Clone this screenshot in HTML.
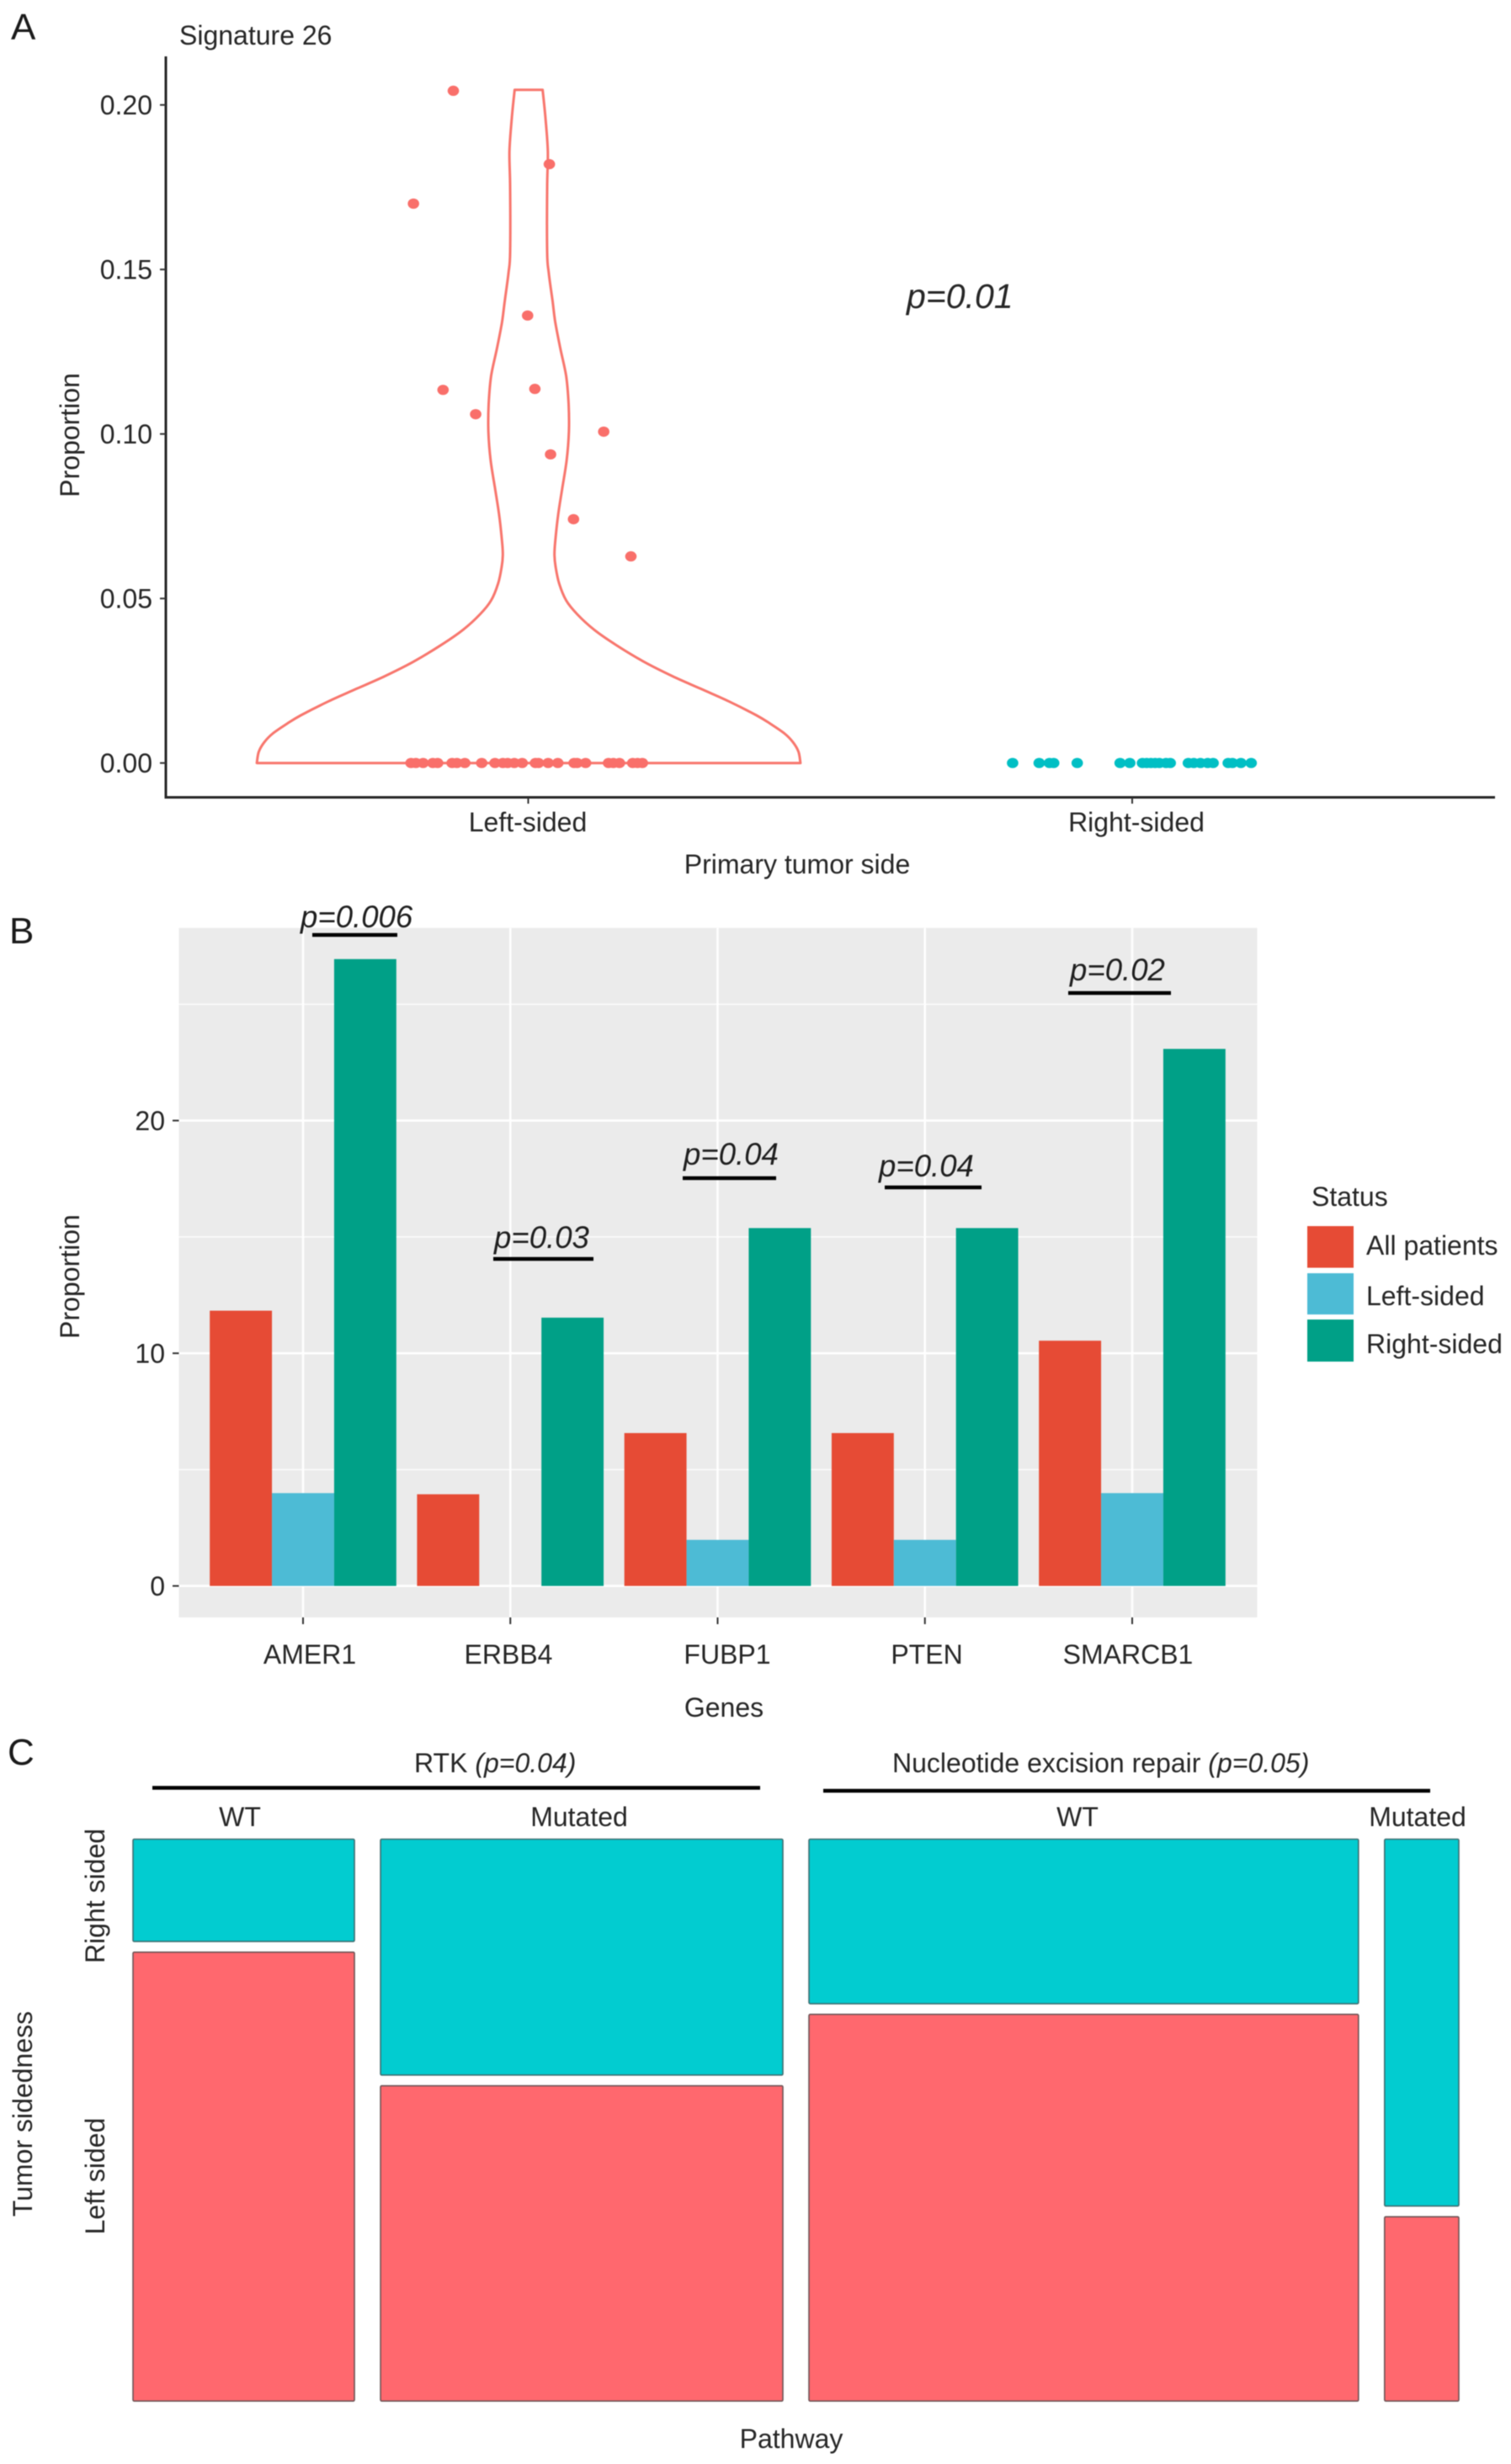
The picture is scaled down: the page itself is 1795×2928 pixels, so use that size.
<!DOCTYPE html>
<html lang="en">
<head>
<meta charset="utf-8">
<title>Signature 26, gene proportions and pathway mosaic</title>
<style>
html,body{margin:0;padding:0;background:#fff;}
body{width:1795px;height:2928px;overflow:hidden;}
svg{display:block;filter:blur(0.5px);}
text{font-family:"Liberation Sans",Arial,sans-serif;font-size:32px;fill:#262626;}
.tag{font-size:44px;fill:#1a1a1a;}
.pv{font-size:36.6px;font-style:italic;fill:#1f1f1f;}
.mid{text-anchor:middle;}
.end{text-anchor:end;}
</style>
</head>
<body>
<svg id="fig" xmlns="http://www.w3.org/2000/svg" width="1795" height="2928" viewBox="0 0 1795 2928">
  <rect x="0" y="0" width="1795" height="2928" fill="#ffffff"/>

  <!-- Panel A -->
  <g id="panelA">
    <text class="tag" x="13" y="47">A</text>
    <text x="213" y="53">Signature 26</text>
    <text class="mid" transform="translate(94,517) rotate(-90)">Proportion</text>
    <text class="mid" x="947" y="1038">Primary tumor side</text>
    <text x="1077" y="366" style="font-size:41px;font-style:italic">p=0.01</text>
    <text class="mid" x="627" y="988">Left-sided</text>
    <text class="mid" x="1350" y="988">Right-sided</text>
  </g>

  <!-- Panel B -->
  <g id="panelB">
    <text class="tag" x="11" y="1121">B</text>
    <rect x="212.5" y="1102.7" width="1281" height="819.3" fill="#ebebeb"/>
  </g>
  <g id="panelBText">
    <text class="mid" transform="translate(94,1517) rotate(-90)">Proportion</text>
    <text class="mid" x="860" y="2040">Genes</text>
    <text class="mid" x="368" y="1977">AMER1</text>
    <text class="mid" x="604" y="1977">ERBB4</text>
    <text class="mid" x="864" y="1977">FUBP1</text>
    <text class="mid" x="1101" y="1977">PTEN</text>
    <text class="mid" x="1340" y="1977">SMARCB1</text>

    <text class="pv" x="357" y="1102">p=0.006</text>
    <line x1="371" x2="472" y1="1111" y2="1111" stroke="#000" stroke-width="4.5"/>
    <text class="pv" x="587" y="1483">p=0.03</text>
    <line x1="586" x2="705" y1="1496" y2="1496" stroke="#000" stroke-width="4.5"/>
    <text class="pv" x="812" y="1384">p=0.04</text>
    <line x1="811" x2="922" y1="1400" y2="1400" stroke="#000" stroke-width="4.5"/>
    <text class="pv" x="1044" y="1398">p=0.04</text>
    <line x1="1051" x2="1166" y1="1411" y2="1411" stroke="#000" stroke-width="4.5"/>
    <text class="pv" x="1271" y="1165">p=0.02</text>
    <line x1="1269" x2="1391" y1="1180" y2="1180" stroke="#000" stroke-width="4.5"/>

    <g>
      <text x="1558" y="1433">Status</text>
      <rect x="1553" y="1457" width="55" height="49.5" fill="#E64B35"/>
      <text x="1623" y="1491">All patients</text>
      <rect x="1553" y="1513" width="55" height="49" fill="#4DBBD5"/>
      <text x="1623" y="1551">Left-sided</text>
      <rect x="1553" y="1568" width="55" height="50" fill="#00A087"/>
      <text x="1623" y="1608">Right-sided</text>
    </g>
  </g>

  <!-- Panel C -->
  <g id="panelC">
    <text class="tag" x="9" y="2097">C</text>
    <text x="492" y="2106">RTK <tspan font-style="italic">(p=0.04)</tspan></text>
    <line x1="181" x2="903" y1="2124.5" y2="2124.5" stroke="#000" stroke-width="4.5"/>
    <text x="1060" y="2106">Nucleotide excision repair <tspan font-style="italic">(p=0.05)</tspan></text>
    <line x1="978" x2="1699" y1="2128" y2="2128" stroke="#000" stroke-width="4.5"/>
    <text class="mid" x="285" y="2170">WT</text>
    <text class="mid" x="688" y="2170">Mutated</text>
    <text class="mid" x="1280" y="2170">WT</text>
    <text class="mid" x="1684" y="2170">Mutated</text>
    <text class="mid" transform="translate(124,2253) rotate(-90)">Right sided</text>
    <text class="mid" transform="translate(124,2586) rotate(-90)">Left sided</text>
    <text class="mid" transform="translate(38,2512) rotate(-90)">Tumor sidedness</text>
    <text class="mid" x="940" y="2909">Pathway</text>
  </g>
</svg>

<script>
// Panel A data
const yTickValuesA = [0, 0.05, 0.10, 0.15, 0.20];
const yTickLabelsA = ["0.00", "0.05", "0.10", "0.15", "0.20"];
const categoriesA = ["Left-sided", "Right-sided"];
const leftPositions = [0.806,0.814,0.826,0.842,0.850,0.874,0.882,0.895,0.923,0.945,0.958,0.966,0.977,0.990,1.012,1.017,1.033,1.049,1.076,1.081,1.095,1.133,1.141,1.151,1.173,1.181,1.189,
  0.876,1.035,0.810,0.999,0.859,1.011,0.913,1.125,1.037,1.075,1.170];
const leftProportions = [0,0,0,0,0,0,0,0,0,0,0,0,0,0,0,0,0,0,0,0,0,0,0,0,0,0,0,
  0.2043,0.182,0.170,0.136,0.1134,0.1137,0.106,0.1007,0.0938,0.0741,0.0628];
const rightPositions = [1.802,1.846,1.863,1.870,1.909,1.980,1.996,2.017,2.024,2.031,2.038,2.045,2.056,2.063,2.093,2.102,2.113,2.125,2.134,2.159,2.166,2.180,2.197];
const rightProportions = [0,0,0,0,0,0,0,0,0,0,0,0,0,0,0,0,0,0,0,0,0,0,0];
const violinLevels = [0,.0034,.0064,.009,.0119,.0145,.0188,.0226,.0264,.0307,.0358,.0405,.0452,.0494,.0546,.0597,.0631,.0665,.0751,.0836,.0921,.1006,.1091,.1176,.1262,.134,.1407,.1492,.1552,.1748,.1859,.196,.2046];
const violinDensity = [1,.993,.972,.941,.89,.838,.735,.632,.529,.426,.323,.241,.179,.138,.112,.099,.095,.097,.108,.124,.14,.148,.147,.138,.116,.098,.0875,.0736,.068,.068,.0705,.062,.0515];

// Panel B data
const genes = ["AMER1", "ERBB4", "FUBP1", "PTEN", "SMARCB1"];
const allPatients = [11.83, 3.94, 6.57, 6.57, 10.54];
const leftSided = [3.99, 0, 1.98, 1.98, 3.99];
const rightSided = [26.94, 11.53, 15.38, 15.38, 23.08];
const yTickValuesB = [0, 10, 20];
const yTickLabelsB = ["0", "10", "20"];
const yMinorValuesB = [5, 15, 25];

// Panel C data
const mosaicColumns = ["rtk-wt", "rtk-mutated", "ner-wt", "ner-mutated"];
const columnShare = [0.355, 0.645, 0.881, 0.119];
const rightSidedShare = [0.1856, 0.428, 0.2985, 0.6656];

const NS = "http://www.w3.org/2000/svg";
function mk(parent, tag, attrs, txt) {
  const el = document.createElementNS(NS, tag);
  for (const k in attrs) el.setAttribute(k, attrs[k]);
  if (txt !== undefined) el.textContent = txt;
  parent.appendChild(el);
  return el;
}
// Smooth open curve through points (Catmull-Rom to cubic Bezier)
function smooth(pts) {
  let s = "";
  for (let i = 0; i < pts.length - 1; i++) {
    const p0 = pts[Math.max(0, i - 1)], p1 = pts[i], p2 = pts[i + 1], p3 = pts[Math.min(pts.length - 1, i + 2)];
    const c1x = p1[0] + (p2[0] - p0[0]) / 6, c1y = p1[1] + (p2[1] - p0[1]) / 6;
    const c2x = p2[0] - (p3[0] - p1[0]) / 6, c2y = p2[1] - (p3[1] - p1[1]) / 6;
    s += "C" + c1x.toFixed(1) + " " + c1y.toFixed(1) + " " + c2x.toFixed(1) + " " + c2y.toFixed(1) + " " + p2[0].toFixed(1) + " " + p2[1].toFixed(1);
  }
  return s;
}

// ---------- Panel A ----------
const xA = v => 627.5 + (v - 1) * 717.5;
const yA = v => 906.7 - v * 3910;
const gA = document.getElementById("panelA");

const axisYA = mk(gA, "line", {x1:197, x2:197, y1:67, y2:949, stroke:"#262626", "stroke-width":3});


const axisXA = mk(gA, "line", {x1:196, x2:1776, y1:947.5, y2:947.5, stroke:"#262626", "stroke-width":3});



yTickValuesA.forEach((v, i) => {
  const t = mk(gA, "line", {x1:190, x2:197, y1:yA(v), y2:yA(v), stroke:"#333", "stroke-width":2});
  
  
  const l = mk(gA, "text", {x:181, y:yA(v) + 11.5, class:"end"}, yTickLabelsA[i]);
  
  
});
categoriesA.forEach((c, i) => {
  const t = mk(gA, "line", {x1:xA(i + 1), x2:xA(i + 1), y1:948, y2:955, stroke:"#333", "stroke-width":2});
  
  
});

const halfWidth = 0.45;
const violinCenter = 1.0007;
const rightSide = violinLevels.map((lv, i) => [xA(violinCenter + violinDensity[i] * halfWidth), yA(lv)]);
const leftSide = violinLevels.map((lv, i) => [xA(violinCenter - violinDensity[i] * halfWidth), yA(lv)]).reverse();
const violinPath = "M" + rightSide[0][0].toFixed(1) + " " + rightSide[0][1].toFixed(1) + smooth(rightSide) +
  "L" + leftSide[0][0].toFixed(1) + " " + leftSide[0][1].toFixed(1) + smooth(leftSide) + "Z";
const violin = mk(gA, "path", {d:violinPath, fill:"none", stroke:"#F8766D", "stroke-width":3, "stroke-linejoin":"round"});



leftPositions.forEach((p, i) => {
  const d = mk(gA, "ellipse", {cx:xA(p), cy:yA(leftProportions[i]), rx:6.8, ry:6.1, fill:"#F96F6A"});
  
  
});
rightPositions.forEach((p, i) => {
  const d = mk(gA, "ellipse", {cx:xA(p), cy:yA(rightProportions[i]), rx:6.8, ry:6.1, fill:"#00BFC4"});
  
  
});

// ---------- Panel B ----------
const stepB = 246.25;
const xB = i => 360 + i * stepB;
const yB = v => 1884.6 - v * 27.65;
const gB = document.getElementById("panelB");
const PLOT_L = 212.5, PLOT_R = 1493.5, PLOT_T = 1102.7, PLOT_B = 1922;

yMinorValuesB.forEach(v => {
  const g = mk(gB, "line", {x1:PLOT_L, x2:PLOT_R, y1:yB(v), y2:yB(v), stroke:"#fff", "stroke-width":1.3});
  
  
});
yTickValuesB.forEach((v, i) => {
  const g = mk(gB, "line", {x1:PLOT_L, x2:PLOT_R, y1:yB(v), y2:yB(v), stroke:"#fff", "stroke-width":2.6});
  
  
  const t = mk(gB, "line", {x1:205, x2:212.5, y1:yB(v), y2:yB(v), stroke:"#333", "stroke-width":2});
  
  
  const l = mk(gB, "text", {x:196, y:yB(v) + 11.5, class:"end"}, yTickLabelsB[i]);
  
  
});
genes.forEach((g, i) => {
  const v = mk(gB, "line", {x1:xB(i), x2:xB(i), y1:PLOT_T, y2:PLOT_B, stroke:"#fff", "stroke-width":2.6});
  
  
  const t = mk(gB, "line", {x1:xB(i), x2:xB(i), y1:PLOT_B, y2:PLOT_B + 8, stroke:"#333", "stroke-width":2});
  
  
});

function drawBars(values, slot, color, name) {
  values.forEach((v, i) => {
    const x0 = xB(i) + (slot * 0.3 - 0.45) * stepB;
    const b = mk(gB, "rect", {x:x0, y:yB(v), width:0.3 * stepB, height:Math.max(0, yB(0) - yB(v)), fill:color});
    
    
  });
}
drawBars(allPatients, 0, "#E64B35", "all-patients");
drawBars(leftSided, 1, "#4DBBD5", "left-sided");
drawBars(rightSided, 2, "#00A087", "right-sided");

// ---------- Panel C ----------
const gC = document.getElementById("panelC");
const MOSAIC_TOP = 2185.5, MOSAIC_H = 655, ROW_GAP = 12.7, COL_GAP = 31, PATHWAY_W = 741;
let cursorX = 158;
mosaicColumns.forEach((col, i) => {
  const w = columnShare[i] * PATHWAY_W;
  const topH = rightSidedShare[i] * MOSAIC_H;
  const upper = mk(gC, "rect", {x:cursorX, y:MOSAIC_TOP, width:w, height:topH, rx:1.5, fill:"#02CCD0", stroke:"#3f6f72", "stroke-width":1.6});
  
  
  const lower = mk(gC, "rect", {x:cursorX, y:MOSAIC_TOP + topH + ROW_GAP, width:w, height:MOSAIC_H - topH, rx:1.5, fill:"#FF686E", stroke:"#6e5557", "stroke-width":1.6});
  
  
  cursorX += w + COL_GAP;
});
</script>
</body>
</html>
